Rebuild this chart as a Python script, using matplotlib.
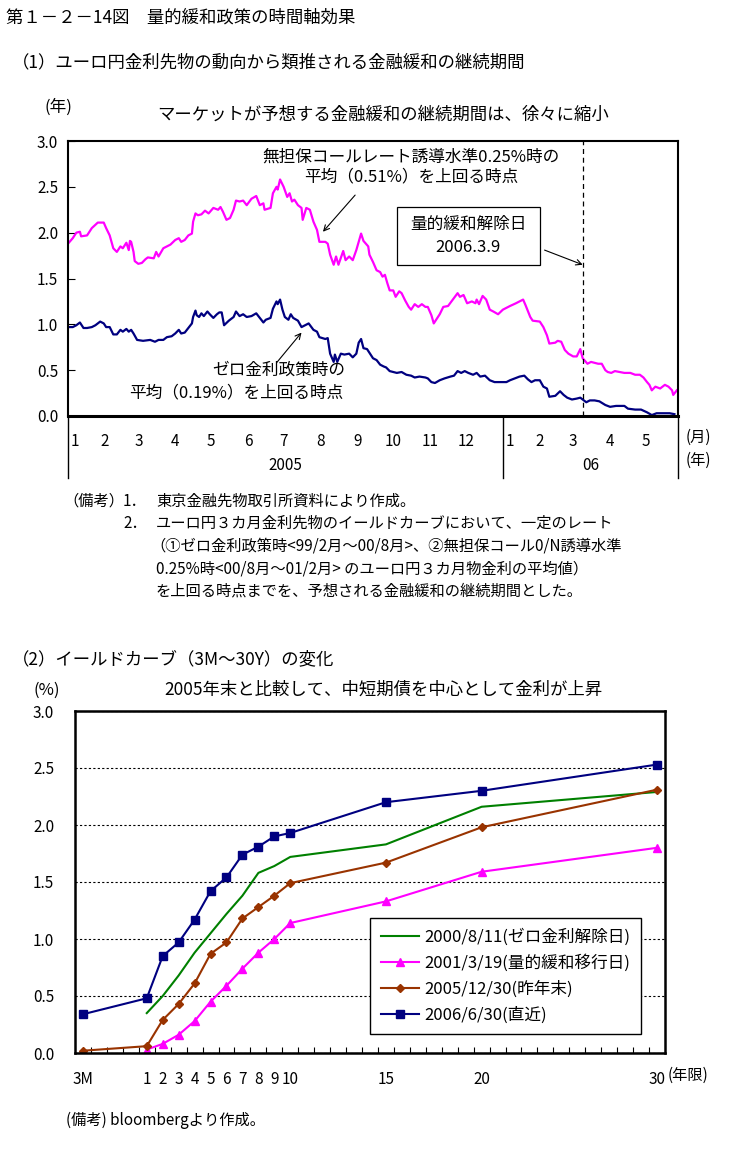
import numpy as np
import pandas as pd
import matplotlib
matplotlib.use('Agg')
import matplotlib.pyplot as plt
from matplotlib.patches import Rectangle

plt.rcParams['font.family'] = ['Noto Sans CJK JP', 'DejaVu Sans']

# ---- (1) expected duration of easing (years), days counted from 2005-01-01
mag_days = [0, 4, 7, 10, 11, 16, 20, 25, 30, 32,
            35, 38, 41, 44, 46, 49, 51, 52, 53, 55,
            56, 59, 62, 65, 67, 72, 74, 76, 80, 86,
            90, 93, 95, 98, 101, 104, 105, 107, 109, 112,
            115, 118, 122, 126, 128, 130, 133, 136, 139, 141,
            144, 147, 150, 154, 158, 161, 164, 165, 170, 172,
            175, 176, 178, 181, 184, 186, 188, 190, 193, 196,
            197, 200, 203, 206, 209, 211, 216, 218, 220, 223,
            225, 227, 230, 231, 233, 236, 239, 242, 244, 246,
            248, 252, 253, 256, 259, 262, 264, 266, 268, 270,
            273, 275, 278, 280, 283, 286, 288, 291, 294, 297,
            300, 302, 305, 307, 310, 312, 315, 319, 323, 327,
            329, 332, 335, 339, 342, 343, 345, 348, 351, 354,
            357, 361, 365, 371, 376, 379, 382, 384, 388, 390,
            396, 399, 402, 404, 409, 411, 414, 417, 420, 424,
            427, 430, 432, 436, 439, 445, 448, 451, 453, 456,
            459, 463, 467, 472, 476, 480, 483, 486, 488, 490,
            493, 497, 501, 504, 507, 508, 511]
mag_vals = [1.88, 1.94, 2.00, 2.01, 1.96, 1.97, 2.05, 2.11, 2.11, 2.05,
            1.97, 1.83, 1.79, 1.85, 1.83, 1.89, 1.81, 1.91, 1.90, 1.79,
            1.69, 1.66, 1.67, 1.71, 1.73, 1.72, 1.79, 1.74, 1.83, 1.87,
            1.92, 1.94, 1.90, 1.92, 1.97, 1.99, 2.12, 2.21, 2.19, 2.20,
            2.24, 2.21, 2.27, 2.25, 2.28, 2.23, 2.14, 2.16, 2.25, 2.35,
            2.34, 2.35, 2.30, 2.37, 2.40, 2.30, 2.32, 2.25, 2.27, 2.43,
            2.50, 2.47, 2.58, 2.50, 2.39, 2.43, 2.34, 2.36, 2.30, 2.27,
            2.14, 2.27, 2.25, 2.12, 2.03, 1.90, 1.90, 1.88, 1.76, 1.65,
            1.74, 1.65, 1.76, 1.80, 1.70, 1.74, 1.70, 1.81, 1.90, 1.99,
            1.91, 1.85, 1.76, 1.68, 1.59, 1.57, 1.52, 1.54, 1.45, 1.37,
            1.37, 1.30, 1.36, 1.34, 1.26, 1.19, 1.16, 1.22, 1.19, 1.22,
            1.19, 1.19, 1.10, 1.01, 1.07, 1.11, 1.19, 1.20, 1.27, 1.34,
            1.30, 1.32, 1.23, 1.25, 1.23, 1.27, 1.22, 1.31, 1.27, 1.16,
            1.14, 1.11, 1.16, 1.20, 1.23, 1.25, 1.27, 1.21, 1.08, 1.04,
            1.03, 0.97, 0.88, 0.79, 0.80, 0.82, 0.81, 0.72, 0.68, 0.65,
            0.65, 0.73, 0.63, 0.57, 0.59, 0.57, 0.57, 0.50, 0.48, 0.47,
            0.49, 0.48, 0.47, 0.47, 0.45, 0.45, 0.42, 0.37, 0.34, 0.28,
            0.32, 0.30, 0.34, 0.32, 0.28, 0.23, 0.28]

navy_days = [0, 4, 7, 10, 13, 16, 20, 23, 27, 30,
             32, 35, 38, 41, 44, 46, 49, 51, 53, 55,
             58, 63, 69, 73, 76, 80, 83, 87, 90, 93,
             95, 98, 101, 104, 105, 107, 108, 110, 112, 114,
             117, 119, 122, 125, 127, 129, 131, 135, 139, 141,
             144, 147, 150, 154, 158, 161, 164, 166, 170, 172,
             175, 176, 178, 180, 182, 185, 187, 189, 193, 196,
             199, 202, 206, 209, 211, 216, 218, 220, 223, 224,
             226, 229, 232, 236, 239, 242, 244, 246, 248, 251,
             253, 256, 259, 262, 265, 267, 270, 273, 276, 280,
             284, 288, 291, 295, 300, 302, 305, 308, 312, 316,
             321, 324, 327, 330, 333, 336, 340, 343, 346, 350,
             354, 358, 363, 368, 371, 375, 379, 383, 386, 389,
             392, 396, 399, 402, 404, 409, 413, 416, 419, 423,
             427, 430, 433, 435, 438, 442, 446, 451, 455, 460,
             467, 470, 476, 481, 486, 490, 494, 500, 505, 509]
navy_vals = [0.97, 0.97, 0.99, 1.02, 0.96, 0.96, 0.97, 0.99, 1.03, 1.01,
             0.97, 0.97, 0.89, 0.89, 0.94, 0.92, 0.95, 0.92, 0.94, 0.90,
             0.83, 0.82, 0.83, 0.81, 0.83, 0.83, 0.86, 0.87, 0.90, 0.94,
             0.90, 0.91, 0.96, 1.01, 1.08, 1.15, 1.10, 1.08, 1.12, 1.09,
             1.14, 1.11, 1.07, 1.11, 1.13, 1.13, 0.99, 1.04, 1.08, 1.14,
             1.09, 1.11, 1.08, 1.09, 1.12, 1.07, 1.02, 1.05, 1.07, 1.17,
             1.25, 1.22, 1.27, 1.16, 1.08, 1.05, 1.11, 1.07, 1.04, 0.97,
             0.99, 1.01, 0.94, 0.92, 0.86, 0.84, 0.85, 0.68, 0.59, 0.67,
             0.59, 0.68, 0.67, 0.68, 0.64, 0.68, 0.80, 0.84, 0.74, 0.73,
             0.69, 0.63, 0.61, 0.56, 0.54, 0.53, 0.49, 0.48, 0.47, 0.48,
             0.45, 0.44, 0.42, 0.43, 0.42, 0.41, 0.37, 0.36, 0.39, 0.41,
             0.43, 0.44, 0.49, 0.47, 0.49, 0.47, 0.45, 0.47, 0.43, 0.44,
             0.39, 0.37, 0.37, 0.37, 0.39, 0.41, 0.43, 0.44, 0.40, 0.37,
             0.39, 0.39, 0.32, 0.30, 0.21, 0.22, 0.27, 0.23, 0.20, 0.18,
             0.19, 0.20, 0.17, 0.15, 0.17, 0.17, 0.16, 0.12, 0.10, 0.11,
             0.11, 0.08, 0.07, 0.07, 0.04, 0.01, 0.03, 0.03, 0.03, 0.02]

start = pd.Timestamp('2005-01-01')
end = pd.Timestamp('2006-05-28')
exit_date = pd.Timestamp('2006-03-09')

# ---- (2) yield curves (%)
mat_labels = ['3M', '1', '2', '3', '4', '5', '6', '7', '8', '9', '10', '15', '20', '30']
maturity = [0.25, 1, 2, 3, 4, 5, 6, 7, 8, 9, 10, 15, 20, 30]
y2000 = [np.nan, 0.35, 0.50, 0.68, 0.88, 1.05, 1.22, 1.38, 1.58, 1.64, 1.72, 1.83, 2.16, 2.29]
y2001 = [np.nan, 0.03, 0.08, 0.16, 0.28, 0.45, 0.59, 0.74, 0.88, 1.00, 1.14, 1.33, 1.59, 1.80]
y2005 = [0.02, 0.06, 0.29, 0.43, 0.61, 0.87, 0.97, 1.18, 1.28, 1.38, 1.49, 1.67, 1.98, 2.31]
y2006 = [0.34, 0.48, 0.85, 0.97, 1.17, 1.42, 1.54, 1.74, 1.81, 1.90, 1.93, 2.20, 2.30, 2.53]
names = ['2000/8/11(ゼロ金利解除日)', '2001/3/19(量的緩和移行日)',
         '2005/12/30(昨年末)', '2006/6/30(直近)']

W, H = 734, 1158
fig = plt.figure(figsize=(W / 100, H / 100), dpi=100)
fig.patch.set_facecolor('white')


def fx(px):
    return px / W


def fy(py):
    return 1 - py / H


def ftext(px, py, s, size=12, ha='left', **kw):
    fig.text(fx(px), fy(py), s, fontsize=size, ha=ha, va='center', **kw)


ftext(6, 18, '第１－２－14図　量的緩和政策の時間軸効果', 12.5)
ftext(12, 63, '（1）ユーロ円金利先物の動向から類推される金融緩和の継続期間', 12.5)

# ---------------- chart 1
ax1 = fig.add_axes([fx(68), fy(416), fx(678) - fx(68), fy(141) - fy(416)])
mag_dates = start + pd.to_timedelta(mag_days, unit='D')
navy_dates = start + pd.to_timedelta(navy_days, unit='D')
ax1.plot(mag_dates, mag_vals, color='#FF00FF', lw=1.6)
ax1.plot(navy_dates, navy_vals, color='#000080', lw=1.6)
ax1.axvline(exit_date, color='black', lw=0.9, ls=(0, (4, 3)))
ax1.set_xlim(start, end)
ax1.set_ylim(0, 3)
ax1.set_yticks(np.arange(0, 3.01, 0.5))
ax1.set_yticklabels([f'{v:.1f}' for v in np.arange(0, 3.01, 0.5)])
ax1.tick_params(axis='y', direction='in', length=5, labelsize=11, pad=7)

months = pd.date_range(start, end, freq='MS')
pos = [m + pd.Timedelta(days=6) if m.month == 1 else m for m in months]
ax1.set_xticks(pos)
ax1.set_xticklabels([str(m.month) for m in months])
ax1.tick_params(axis='x', length=0, labelsize=11, pad=12)
for s in ax1.spines.values():
    s.set_linewidth(1.5)
ax1.spines['bottom'].set_linewidth(2.2)

tr = ax1.get_xaxis_transform()
for d in [start, pd.Timestamp('2006-01-01'), end]:
    ax1.plot([d, d], [0, -0.226], transform=tr, color='black', lw=1, clip_on=False)
ax1.text(start + (pd.Timestamp('2006-01-01') - start) / 2, -0.18, '2005',
         transform=tr, ha='center', va='center', fontsize=11)
ax1.text(pd.Timestamp('2006-01-01') + (end - pd.Timestamp('2006-01-01')) / 2, -0.18, '06',
         transform=tr, ha='center', va='center', fontsize=11)
ftext(686, 437, '(月)', 11)
ftext(686, 460, '(年)', 11)
ftext(58, 107, '(年)', 12, ha='center')
ftext(383, 115, 'マーケットが予想する金融緩和の継続期間は、徐々に縮小', 12.5, ha='center')

arrow = dict(arrowstyle='->', color='black', lw=0.8, shrinkA=0, shrinkB=0)
ax1.annotate('', xy=(start + pd.Timedelta(days=214), 2.01),
             xytext=(start + pd.Timedelta(days=241), 2.41), arrowprops=arrow)
ax1.annotate('', xy=(start + pd.Timedelta(days=196), 0.91),
             xytext=(start + pd.Timedelta(days=175), 0.58), arrowprops=arrow)
ax1.annotate('', xy=(exit_date, 1.65),
             xytext=(start + pd.Timedelta(days=400), 1.81), arrowprops=arrow)
ftext(411, 157, '無担保コールレート誘導水準0.25%時の', 12, ha='center')
ftext(411, 177, '平均（0.51%）を上回る時点', 12, ha='center')
ftext(345, 370, 'ゼロ金利政策時の', 12, ha='right')
ftext(343, 393, '平均（0.19%）を上回る時点', 12, ha='right')
fig.add_artist(Rectangle((fx(397), fy(265)), fx(540) - fx(397), fy(207) - fy(265),
                         transform=fig.transFigure, fc='white', ec='black', lw=0.9))
ftext(468, 224, '量的緩和解除日', 12, ha='center')
ftext(468, 248, '2006.3.9', 12, ha='center')

# notes
ftext(63, 501, '（備考）', 11)
ftext(123, 501, '1．', 11)
ftext(123, 524, '2．', 11)
notes = ['東京金融先物取引所資料により作成。',
         'ユーロ円３カ月金利先物のイールドカーブにおいて、一定のレート',
         '（①ゼロ金利政策時<99/2月～00/8月>、②無担保コール0/N誘導水準',
         '0.25%時<00/8月～01/2月> のユーロ円３カ月物金利の平均値）',
         'を上回る時点までを、予想される金融緩和の継続期間とした。']
for i, line in enumerate(notes):
    ftext(150 if line.startswith('（') else 156, 501 + 22.5 * i, line, 11)

# ---------------- chart 2
ftext(12, 659, '（2）イールドカーブ（3M～30Y）の変化', 12.5)
ftext(47, 690, '(%)', 12, ha='center')
ftext(383, 690, '2005年末と比較して、中短期債を中心として金利が上昇', 12.5, ha='center')

knot_m = [0, 0.25, 1, 10, 15, 20, 30, 31]
knot_u = [-5 / 6, 0.5, 4.5, 13.5, 19.5, 25.5, 36.5, 37.6]


def fwd(m):
    return np.interp(m, knot_m, knot_u)


def inv(u):
    return np.interp(u, knot_u, knot_m)


ax2 = fig.add_axes([fx(75), fy(1053), fx(665) - fx(75), fy(711) - fy(1053)])
ax2.set_xscale('function', functions=(fwd, inv))
ax2.plot(maturity, y2000, color='#008000', lw=1.5, label=names[0])
ax2.plot(maturity, y2001, color='#FF00FF', lw=1.5, marker='^', ms=6, label=names[1])
ax2.plot(maturity, y2005, color='#993300', lw=1.5, marker='D', ms=4.5, label=names[2])
ax2.plot(maturity, y2006, color='#000080', lw=1.5, marker='s', ms=6, label=names[3])
ax2.set_xlim(inv(0), inv(37))
ax2.set_ylim(0, 3)
ax2.set_yticks(np.arange(0, 3.01, 0.5))
ax2.set_yticklabels([f'{v:.1f}' for v in np.arange(0, 3.01, 0.5)])
ax2.tick_params(axis='y', length=0, labelsize=11, pad=15)
ax2.grid(axis='y', color='black', lw=0.8, ls=(0, (2, 2)))
ax2.set_xticks(maturity)
ax2.set_xticklabels(mat_labels)
ax2.set_xticks(inv(np.arange(1, 37)), minor=True)
ax2.tick_params(axis='x', which='major', length=0, labelsize=11, pad=13)
ax2.tick_params(axis='x', which='minor', direction='in', length=4, width=0.8)
for s in ax2.spines.values():
    s.set_linewidth(1.8)
ftext(668, 1075, '(年限)', 11)
ax2.legend(loc='upper left', bbox_to_anchor=(fx(370), fy(918)), bbox_transform=fig.transFigure,
           borderaxespad=0, fancybox=False, edgecolor='black', framealpha=1, fontsize=12,
           handlelength=2.3, labelspacing=0.5, borderpad=0.65, handletextpad=0.3)
ftext(66, 1120, '(備考) bloombergより作成。', 11)

fig.savefig('out.png', dpi=100, facecolor='white')
